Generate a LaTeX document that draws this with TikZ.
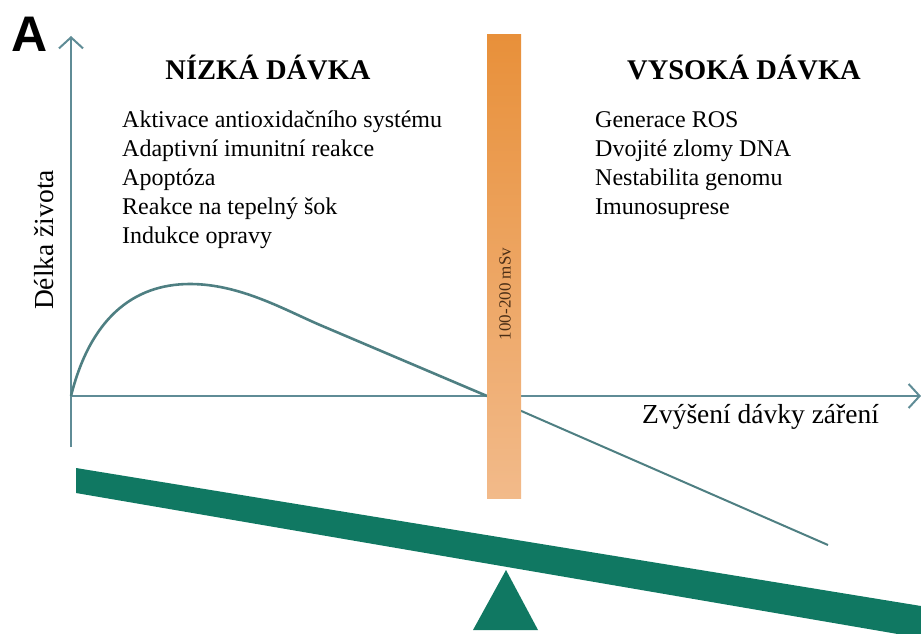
\documentclass[tikz,border=0pt]{standalone}
\usepackage{fontspec}
\setmainfont{Liberation Serif}
\newfontfamily\arialfont{Liberation Sans}
\usetikzlibrary{arrows.meta}
\definecolor{osa}{HTML}{5F8C96}
\definecolor{krivka}{HTML}{4E7F82}
\definecolor{zelena}{HTML}{107862}
\definecolor{oranzT}{HTML}{E8903A}
\definecolor{oranzB}{HTML}{F2BA8A}
\definecolor{hneda}{HTML}{4A2E16}
\tikzset{
  osy/.style={draw=osa, line width=2.6pt, -{Straight Barb[length=11pt,width=24pt,line width=2pt]}},
  seznam/.style={anchor=base west, inner sep=0pt, font=\fontsize{24}{29}\selectfont},
  nadpis/.style={anchor=base, inner sep=0pt, font=\fontsize{28.5}{34}\selectfont\bfseries},
  popisek/.style={inner sep=0pt, font=\fontsize{27.5}{33}\selectfont}
}
\begin{document}
\begin{tikzpicture}[x=1pt,y=-1pt]
        \useasboundingbox (0,0) rectangle (921,634);
        \clip (0,0) rectangle (921,634);

        %%%%%%%%% Osy %%%%%%%%%
        \coordinate (origin) at (71,396);
        \coordinate (ybot) at (71,447);
        \coordinate (ytip) at (71,36);
        \coordinate (xtip) at (921,396);
        \draw[osy] (ybot) -- (ytip);
        \draw[osy] (origin) -- (xtip);

        %%%%%%%% Krivka %%%%%%%%
        \coordinate (peak) at (190,284);
        \coordinate (cross) at (487,396);
        \coordinate (cend) at (828,545);
        \draw[krivka, line width=2.6pt] (origin) .. controls (90,320) and (132,284) .. (peak)
            .. controls (240,284) and (285,310) .. (320,325) -- (cross);
        \draw[krivka, line width=2pt] (cross) -- (cend);

        %%%%%%%%% Pruh %%%%%%%%%
        \shade[top color=oranzT, bottom color=oranzB] (487,35) rectangle (521,498);
        \node[rotate=90, text=hneda, inner sep=0pt, font=\fontsize{17}{20}\selectfont] (mSv) at (505,294) {100-200 mSv};

        %%%%%%%%% Vaha %%%%%%%%%
        \fill[zelena] (76,468) -- (921,606) -- (921,638) -- (76,493) -- cycle;
        \fill[zelena] (506,570) -- (538,630) -- (473,630) -- cycle;

        %%%%%%%% Popisky %%%%%%%%
        \node[font=\arialfont\bfseries\fontsize{50}{50}\selectfont, inner sep=0pt] (A) at (30,34) {A};
        \node[popisek, rotate=90] (ylab) at (44,240) {Délka života};
        \node[popisek, anchor=base west] (xlab) at (642,423) {Zvýšení dávky záření};

        %%%%%%%% Nízká dávka %%%%%%%%
        \node[nadpis] (nizka) at (268,79) {NÍZKÁ DÁVKA};
        \node[seznam] (n1) at (122,127) {Aktivace antioxidačního systému};
        \node[seznam] (n2) at (122,156) {Adaptivní imunitní reakce};
        \node[seznam] (n3) at (122,185) {Apoptóza};
        \node[seznam] (n4) at (122,214) {Reakce na tepelný šok};
        \node[seznam] (n5) at (122,243) {Indukce opravy};

        %%%%%%%% Vysoká dávka %%%%%%%%
        \node[nadpis] (vysoka) at (744,79) {VYSOKÁ DÁVKA};
        \node[seznam] (v1) at (595,127) {Generace ROS};
        \node[seznam] (v2) at (595,156) {Dvojité zlomy DNA};
        \node[seznam] (v3) at (595,185) {Nestabilita genomu};
        \node[seznam] (v4) at (595,214) {Imunosuprese};
    \end{tikzpicture}
\end{document}
